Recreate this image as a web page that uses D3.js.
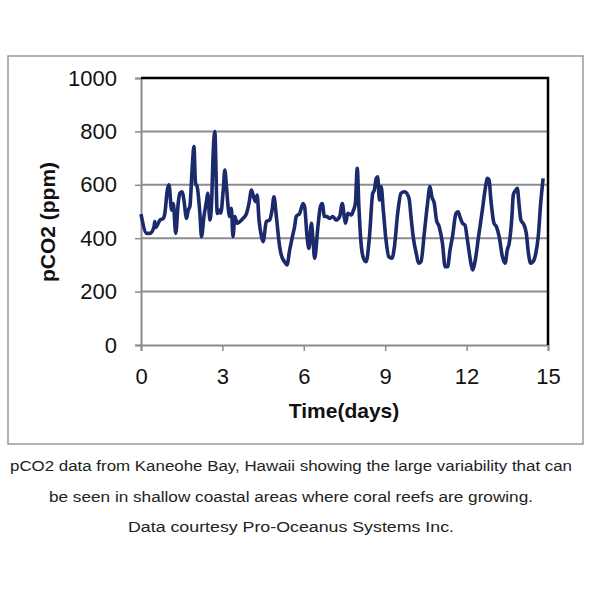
<!DOCTYPE html>
<html><head><meta charset="utf-8">
<script src="https://cdn.jsdelivr.net/npm/d3@7"></script>
<style>body{margin:0;background:#fff}</style>
</head><body>
<svg id="c" width="600" height="600"></svg>
<script>
const days = [0.0,0.21,0.33,0.48,0.51,0.54,0.70,0.82,0.88,0.97,1.03,1.13,1.19,1.28,1.37,1.43,1.52,1.58,1.68,1.74,1.80,1.89,1.95,2.01,2.07,2.17,2.23,2.32,2.42,2.46,2.54,2.60,2.66,2.72,2.81,2.88,2.94,3.03,3.09,3.15,3.21,3.27,3.33,3.39,3.46,3.54,3.64,3.76,3.89,3.98,4.07,4.15,4.22,4.28,4.35,4.44,4.50,4.62,4.74,4.83,4.90,4.99,5.11,5.17,5.29,5.38,5.48,5.58,5.66,5.72,5.85,5.97,6.03,6.12,6.19,6.28,6.33,6.40,6.52,6.61,6.68,6.76,6.85,6.95,7.07,7.19,7.32,7.42,7.49,7.54,7.62,7.75,7.83,7.90,7.97,8.03,8.11,8.20,8.30,8.42,8.54,8.60,8.67,8.72,8.79,8.85,8.93,9.03,9.13,9.25,9.34,9.46,9.58,9.71,9.83,9.89,9.95,10.04,10.15,10.23,10.32,10.44,10.56,10.65,10.72,10.81,10.89,10.99,11.11,11.21,11.30,11.39,11.48,11.61,11.69,11.75,11.85,11.94,12.03,12.16,12.22,12.32,12.44,12.58,12.68,12.77,12.83,12.89,13.01,13.10,13.20,13.32,13.42,13.50,13.57,13.67,13.72,13.81,13.87,13.93,14.00,14.12,14.20,14.28,14.36,14.45,14.55,14.64,14.73,14.82];
const pco2 = [490,418,418,443,462,440,468,474,494,580,600,505,530,418,530,568,574,543,474,505,518,668,743,605,593,493,406,481,543,568,468,530,718,799,493,505,494,580,655,593,518,481,512,406,481,456,462,474,493,530,580,555,537,562,468,406,387,462,468,505,555,480,368,337,312,300,356,406,443,481,493,530,518,406,362,456,406,325,443,518,530,481,481,474,481,468,481,530,481,456,493,487,505,530,662,518,381,325,312,406,568,580,624,630,543,593,505,393,331,325,368,493,568,574,562,543,481,400,340,306,312,418,530,593,555,530,468,443,381,293,293,356,406,493,499,481,456,449,393,306,281,318,406,505,580,624,618,549,456,443,406,331,306,356,381,481,562,580,587,530,468,449,418,343,306,312,343,406,530,624];
const yTicks = [0,200,400,600,800,1000];
const xTicks = [0,3,6,9,12,15];
const caption = ["pCO2 data from Kaneohe Bay, Hawaii showing the large variability that can",
                 "be seen in shallow coastal areas where coral reefs are growing.",
                 "Data courtesy Pro-Oceanus Systems Inc."];

const svg = d3.select("#c");
const L=141, R=548, T=78, B=345;
const x = d3.scaleLinear().domain([0,15]).range([L,R]);
const y = d3.scaleLinear().domain([0,1000]).range([B,T]);
const font = "'Liberation Sans', Arial, sans-serif";

// outer frame
svg.append("rect").attr("x",8).attr("y",56).attr("width",575).attr("height",388)
  .attr("fill","none").attr("stroke","#9a9a9a").attr("stroke-width",1.5);

// gridlines
svg.append("g").selectAll("line").data(yTicks.filter(d=>d>0&&d<1000)).join("line")
  .attr("x1",L).attr("x2",R).attr("y1",d=>y(d)).attr("y2",d=>y(d))
  .attr("stroke","#8c8c8c").attr("stroke-width",2);

// y axis
const ya = svg.append("g").attr("transform",`translate(${L},0)`)
  .call(d3.axisLeft(y).tickValues(yTicks).tickSize(6).tickPadding(18).tickFormat(d3.format("d")));
ya.select(".domain").attr("stroke","#8c8c8c").attr("stroke-width",2);
ya.selectAll(".tick line").attr("stroke","#8c8c8c").attr("stroke-width",1.5);
ya.selectAll("text").attr("font-family",font).attr("font-size",22).attr("fill","#111");

// x axis
const xa = svg.append("g").attr("transform",`translate(0,${B})`)
  .call(d3.axisBottom(x).tickValues(xTicks).tickSize(6).tickPadding(17));
xa.select(".domain").attr("stroke","#8c8c8c").attr("stroke-width",2);
xa.selectAll(".tick line").attr("stroke","#8c8c8c").attr("stroke-width",1.5);
xa.selectAll("text").attr("font-family",font).attr("font-size",22).attr("fill","#111");

// top and right border
svg.append("path").attr("d",`M${L},${T}H${R}V${B}`).attr("fill","none")
  .attr("stroke","#000").attr("stroke-width",2.5);

// line
const pts = days.map((d,i)=>[d,pco2[i]]);
svg.append("path").datum(pts)
  .attr("d",d3.line().x(d=>x(d[0])).y(d=>y(d[1])).curve(d3.curveMonotoneX))
  .attr("fill","none").attr("stroke","#1b2a6b").attr("stroke-width",3.6).attr("stroke-linejoin","round");

// axis titles
svg.append("text").attr("x",344).attr("y",418).attr("text-anchor","middle")
  .attr("font-family",font).attr("font-weight","bold").attr("font-size",21).attr("fill","#111").text("Time(days)");
svg.append("text").attr("transform","translate(55,222) rotate(-90)").attr("text-anchor","middle")
  .attr("font-family",font).attr("font-weight","bold").attr("font-size",21).attr("fill","#111").text("pCO2 (ppm)");

// caption
const capY=[471,502,532], capW=[562,484,326];
svg.append("g").selectAll("text").data(caption).join("text")
  .attr("x",291).attr("y",(d,i)=>capY[i]).attr("text-anchor","middle")
  .attr("font-family",font).attr("font-size",14).attr("fill","#222")
  .attr("textLength",(d,i)=>capW[i]).attr("lengthAdjust","spacingAndGlyphs")
  .text(d=>d);
</script>
</body></html>
